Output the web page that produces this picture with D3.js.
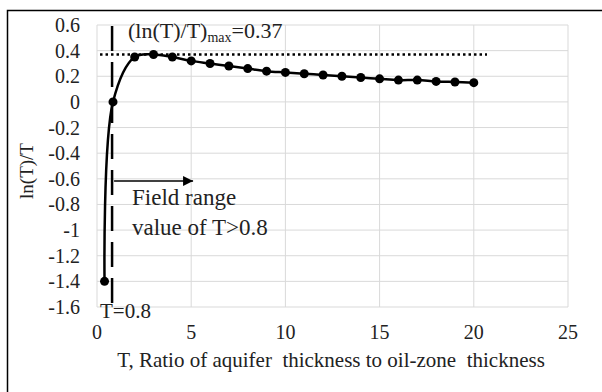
<!DOCTYPE html>
<html><head><meta charset="utf-8">
<script src="https://cdn.jsdelivr.net/npm/d3@7"></script>
<style>body{margin:0;background:#fff}svg{display:block}</style>
</head><body>
<script>
const tValues = [0.4,0.85,2,3,4,5,6,7,8,9,10,11,12,13,14,15,16,17,18,19,20];
const ratioValues = [-1.40,0,0.35,0.37,0.35,0.32,0.30,0.28,0.26,0.24,0.23,0.22,0.21,0.20,0.19,0.18,0.17,0.17,0.16,0.155,0.15];
const xTicks = [0,5,10,15,20,25];
const yTicks = [0.6,0.4,0.2,0,-0.2,-0.4,-0.6,-0.8,-1,-1.2,-1.4,-1.6];
const maxValue = 0.37;
const fieldT = 0.8;

const W=602,H=392;
const FONT='"Liberation Serif","Times New Roman",serif';
const svg=d3.select("body").append("svg").attr("width",W).attr("height",H)
  .attr("font-family",FONT);
svg.append("rect").attr("x",7.5).attr("y",10.5).attr("width",700).attr("height",500)
  .attr("fill","none").attr("stroke","#000").attr("stroke-width",1.5);

const L=97,R=568,T=25,B=307;
const x=d3.scaleLinear().domain([0,25]).range([L,R]);
const y=d3.scaleLinear().domain([-1.6,0.6]).range([B,T]);

// grid
svg.append("g").selectAll("line").data(xTicks).join("line")
  .attr("x1",d=>x(d)).attr("x2",d=>x(d)).attr("y1",T).attr("y2",B)
  .attr("stroke","#d9d9d9").attr("stroke-width",1);
svg.append("g").selectAll("line").data(yTicks).join("line")
  .attr("x1",L).attr("x2",R).attr("y1",d=>y(d)).attr("y2",d=>y(d))
  .attr("stroke","#d9d9d9").attr("stroke-width",1);

const txt=g=>g.attr("fill","#222").attr("font-family",FONT);

// tick labels
svg.append("g").selectAll("text").data(yTicks).join("text").call(txt)
  .attr("x",80).attr("y",d=>y(d)).attr("dy","0.35em").attr("text-anchor","end")
  .attr("font-size",20).text(d=>String(d));
svg.append("g").selectAll("text").data(xTicks).join("text").call(txt)
  .attr("x",d=>x(d)).attr("y",332).attr("dy","0.35em").attr("text-anchor","middle")
  .attr("font-size",20).text(d=>d);

// axis titles
svg.append("text").call(txt).attr("x",331).attr("y",367).attr("text-anchor","middle")
  .attr("font-size",21).attr("xml:space","preserve")
  .text("T, Ratio of aquifer  thickness to oil-zone  thickness");
svg.append("text").call(txt).attr("transform","translate(33,171) rotate(-90)").attr("text-anchor","middle")
  .attr("font-size",19).text("ln(T)/T");

// dotted max line
svg.append("line").attr("x1",x(0.16)).attr("x2",x(20.7)).attr("y1",y(maxValue)).attr("y2",y(maxValue))
  .attr("stroke","#000").attr("stroke-width",2.5).attr("stroke-dasharray","2.5,3");

// dashed vertical line
svg.append("line").attr("x1",x(fieldT)).attr("x2",x(fieldT)).attr("y1",26).attr("y2",303)
  .attr("stroke","#000").attr("stroke-width",2.5).attr("stroke-dasharray","25,11");

// series
const pts=tValues.map((t,i)=>[t,ratioValues[i]]);
svg.append("path").datum(pts)
  .attr("d",d3.line().x(d=>x(d[0])).y(d=>y(d[1])).curve(d3.curveCatmullRom.alpha(0.5)))
  .attr("fill","none").attr("stroke","#000").attr("stroke-width",2.5);
svg.append("g").selectAll("circle").data(pts).join("circle")
  .attr("cx",d=>x(d[0])).attr("cy",d=>y(d[1])).attr("r",4.5).attr("fill","#000");

// arrow
svg.append("defs").append("marker").attr("id","ah").attr("viewBox","0 0 10 10")
  .attr("refX",10).attr("refY",5).attr("markerWidth",12).attr("markerHeight",10)
  .attr("markerUnits","userSpaceOnUse").attr("orient","auto")
  .append("path").attr("d","M0,0L10,5L0,10Z").attr("fill","#000");
svg.append("line").attr("x1",x(fieldT)+2).attr("x2",x(5.1)).attr("y1",181).attr("y2",181)
  .attr("stroke","#000").attr("stroke-width",1.5).attr("marker-end","url(#ah)");

// annotations
const ann=svg.append("text").call(txt).attr("x",128).attr("y",38).attr("font-size",22);
ann.append("tspan").text("(ln(T)/T)");
ann.append("tspan").attr("font-size",14).attr("dy",4).text("max");
ann.append("tspan").attr("dy",-4).text("=0.37");

svg.append("text").call(txt).attr("x",132).attr("y",205).attr("font-size",23).text("Field range");
svg.append("text").call(txt).attr("x",132).attr("y",235).attr("font-size",23).text("value of T>0.8");
svg.append("text").call(txt).attr("x",100).attr("y",318).attr("font-size",21).text("T=0.8");
</script>
</body></html>
